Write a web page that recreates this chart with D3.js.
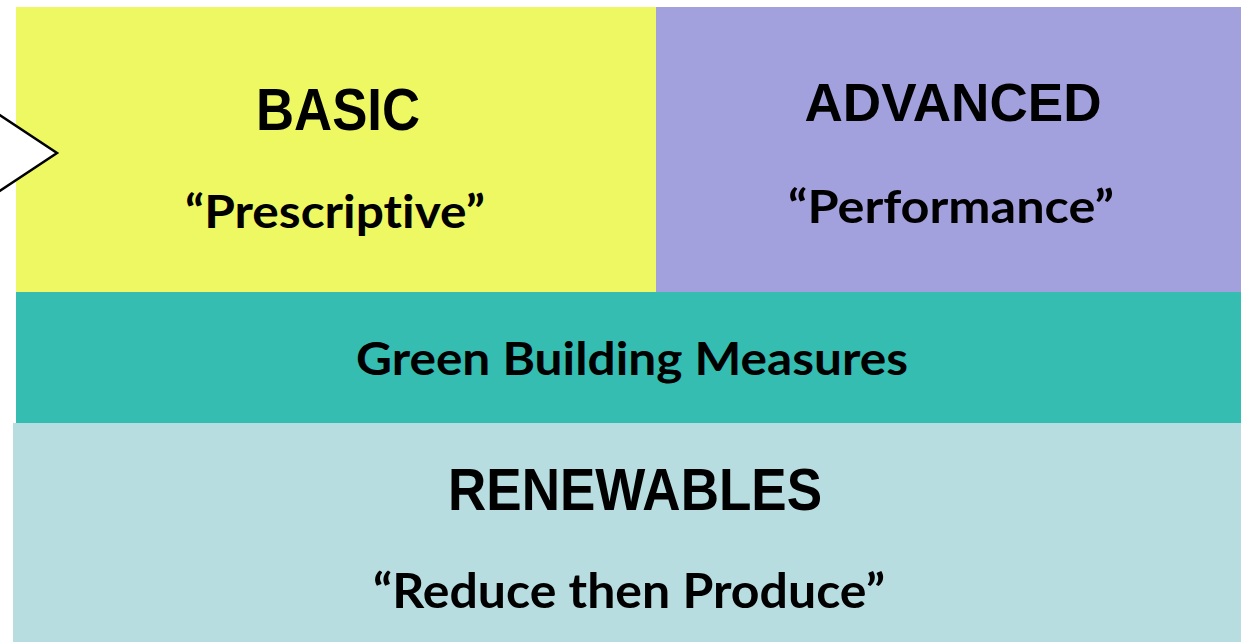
<!DOCTYPE html>
<html>
<head>
<meta charset="utf-8">
<script src="https://cdn.jsdelivr.net/npm/d3@7"></script>
<style>
  html, body { margin: 0; padding: 0; background: #ffffff; }
  svg { display: block; }
  text { font-variant-ligatures: none; font-feature-settings: "liga" 0; }
</style>
</head>
<body>
<div id="chart"></div>
<script>
// TIER DIAGRAM

// data
const tiers = ["BASIC", "ADVANCED"];
const tierSubtitles = ["\u201CPrescriptive\u201D", "\u201CPerformance\u201D"];
const middleBand = ["Green Building Measures"];
const baseTier = ["RENEWABLES"];
const baseSubtitle = ["\u201CReduce then Produce\u201D"];

const width = 1241;
const height = 642;

const COLOR = {
  _BASIC_YELLOW: "#eef862",
  _ADVANCED_PURPLE: "#a3a0de",
  _MEASURES_TEAL: "#35bdb2",
  _RENEW_BLUE: "#b8dde1",
};

const svg = d3
  .select("#chart")
  .append("svg")
  .attr("width", width)
  .attr("height", height);

// top row: two columns, split is not in the middle
const xTop = d3.scaleOrdinal().domain(tiers).range([16, 656]);
const wTop = d3.scaleOrdinal().domain(tiers).range([640, 585]);

// rows
const y = d3
  .scaleOrdinal()
  .domain(["top", "middle", "base"])
  .range([7, 292, 423]);

const tierColor = d3
  .scaleOrdinal()
  .domain(tiers)
  .range([COLOR._BASIC_YELLOW, COLOR._ADVANCED_PURPLE]);

// top boxes
svg
  .selectAll("rect.tier")
  .data(tiers)
  .enter()
  .append("rect")
  .attr("class", "tier")
  .attr("x", (d) => xTop(d))
  .attr("y", y("top"))
  .attr("width", (d) => wTop(d))
  .attr("height", y("middle") - y("top"))
  .attr("fill", (d) => tierColor(d));

// middle band
svg
  .append("rect")
  .attr("x", 16)
  .attr("y", y("middle"))
  .attr("width", width - 16)
  .attr("height", y("base") - y("middle"))
  .attr("fill", COLOR._MEASURES_TEAL);

// base band
svg
  .append("rect")
  .attr("x", 13)
  .attr("y", y("base"))
  .attr("width", width - 13)
  .attr("height", height - y("base"))
  .attr("fill", COLOR._RENEW_BLUE);

// arrow pointing in from the left
svg
  .append("path")
  .attr("d", "M-20,102 L57,153 L-20,204 Z")
  .attr("fill", "#ffffff")
  .attr("stroke", "#000000")
  .attr("stroke-width", 2.5)
  .attr("stroke-linejoin", "miter");

const headFont = "'Liberation Sans', Arial, sans-serif";
const subFont = "Lato, 'Open Sans', sans-serif";

// helper: place text centred, fitted to a width
function addText(str, cx, base, size, fitW, font, stretchY) {
  const t = svg
    .append("text")
    .attr("text-anchor", "middle")
    .attr("font-family", font)
    .attr("font-weight", 700)
    .attr("font-size", size)
    .attr("fill", "#000000")
    .attr("textLength", fitW)
    .attr("lengthAdjust", "spacingAndGlyphs")
    .text(str);
  if (stretchY) {
    t.attr("x", 0)
      .attr("y", 0)
      .attr(
        "transform",
        "translate(" + cx + "," + base + ") scale(1," + stretchY + ")"
      );
  } else {
    t.attr("x", cx).attr("y", base);
  }
  return t;
}

const tierHead = { BASIC: [338, 130, 164, 1.12], ADVANCED: [953, 121, 297, 1] };
const tierSub = { BASIC: [335, 228, 300], ADVANCED: [951, 223, 326] };

tiers.forEach(function (d, i) {
  const h = tierHead[d];
  addText(d, h[0], h[1], 53, h[2], headFont, h[3]);
  const s = tierSub[d];
  addText(tierSubtitles[i], s[0], s[1], 46, s[2], subFont);
});

addText(middleBand[0], 632, 375, 46, 552, subFont);
addText(baseTier[0], 635, 510, 53, 374, headFont, 1.12);
addText(baseSubtitle[0], 629, 608, 47, 512, subFont);
</script>
</body>
</html>
